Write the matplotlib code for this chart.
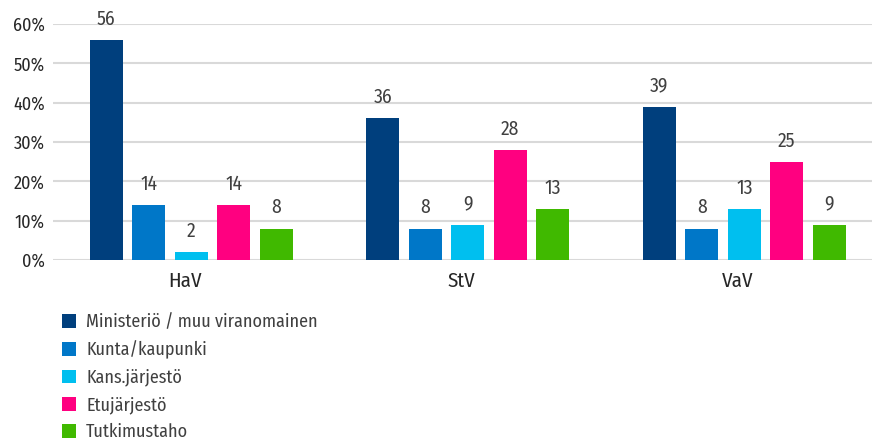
import matplotlib.pyplot as plt
from matplotlib.patches import Patch
from matplotlib.ticker import MultipleLocator, FuncFormatter
import numpy as np

plt.rcParams['font.family'] = ['Fira Sans Condensed', 'PT Sans Narrow', 'DejaVu Sans']

# data
groups = ["HaV", "StV", "VaV"]
series = ["Ministeriö / muu viranomainen", "Kunta/kaupunki", "Kans.järjestö",
          "Etujärjestö", "Tutkimustaho"]
ministerio = [56, 36, 39]
kunta = [14, 8, 8]
kans = [2, 9, 13]
etu = [14, 28, 25]
tutkimus = [8, 13, 9]
values = [ministerio, kunta, kans, etu, tutkimus]
colors = ["#003F7D", "#0077C8", "#00BFEF", "#FF0080", "#40B900"]

txt_col = "#404040"
axis_col = "#262626"

fig = plt.figure(figsize=(8.72, 4.41), dpi=100)
ax = fig.add_axes([53/872, (441-260)/441, 1 - 53/872, (260-24)/441])

x = np.arange(len(groups))
width = 0.119
step = 0.1537
for i, (vals, col) in enumerate(zip(values, colors)):
    pos = x + (i - 2) * step
    bars = ax.bar(pos, vals, width, color=col, label=series[i], zorder=3)
    for b, v in zip(bars, vals):
        ax.annotate(str(v), (b.get_x() + b.get_width()/2, v), xytext=(0, 8),
                    textcoords='offset points', ha='center', va='bottom',
                    fontsize=14, color=txt_col)

ax.set_xlim(-0.5, -0.5 + 819/276.5)
ax.set_ylim(0, 60)
ax.yaxis.set_major_locator(MultipleLocator(10))
ax.yaxis.set_major_formatter(FuncFormatter(lambda v, p: "%d%%" % v))
ax.set_xticks(x - 0.022)
ax.set_xticklabels(groups)
ax.grid(axis='y', color='#D9D9D9', linewidth=1.5, zorder=0)
for s in ax.spines.values():
    s.set_visible(False)
ax.tick_params(axis='both', length=0, colors=axis_col)
ax.tick_params(axis='y', pad=6, labelsize=13)
ax.tick_params(axis='x', pad=8, labelsize=15)

handles = [Patch(facecolor=c, label=s) for c, s in zip(colors, series)]
fig.legend(handles=handles, loc='upper left', bbox_to_anchor=(53/872, 1 - 304/441),
           frameon=False, prop={'size': 13}, labelcolor=txt_col, handlelength=0.78,
           handleheight=0.78, handletextpad=0.55, labelspacing=0.53, borderpad=0)

plt.savefig("out.png", dpi=100)
